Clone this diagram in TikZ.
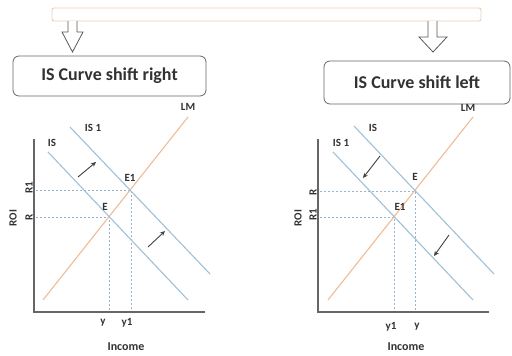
\documentclass[tikz,border=0pt]{standalone}
\usepackage{fontspec}
\setmainfont{Carlito}
\usetikzlibrary{arrows.meta}
\definecolor{isblue}{RGB}{160,192,214}
\definecolor{lmorange}{RGB}{240,188,150}
\definecolor{guidecol}{RGB}{150,180,210}
\definecolor{barcol}{RGB}{232,205,178}
\definecolor{txt}{RGB}{50,50,50}
\begin{document}
\begin{tikzpicture}[x=1pt,y=-1pt,
 lbl/.style={font=\fontsize{11}{11}\selectfont\bfseries, text=txt, inner sep=0pt},
 inc/.style={font=\fontsize{12}{12}\selectfont\bfseries, text=txt, inner sep=0pt},
 isline/.style={draw=isblue, line width=1.1pt},
 lmline/.style={draw=lmorange, line width=1.1pt},
 guide/.style={draw=guidecol, dash pattern=on 2pt off 2pt, line width=0.7pt},
 axis/.style={draw=black!60, line width=1.3pt},
 shiftarrow/.style={draw=black!75, line width=0.9pt, -{Stealth[length=5pt,width=4.5pt]}},
 titlebox/.style={draw=black!60, rounded corners=6pt, line width=0.8pt, font=\fontsize{18}{18}\selectfont\bfseries, text=txt},
 hollow/.style={draw=black!65, fill=white, line width=0.8pt, line join=miter}
]
\useasboundingbox (0,0) rectangle (512,356);
% top bar
\node[draw=barcol, line width=0.9pt, rounded corners=2pt, minimum width=429pt, minimum height=13pt, inner sep=0pt] (bar) at (266.5,14.5) {};
% hollow arrows
\draw[hollow] (68,21) -- (68,32) -- (62,32) -- (72.5,52) -- (83,32) -- (77,32) -- (77,21);
\draw[hollow] (428,21) -- (428,37) -- (419,37) -- (433,52) -- (447,37) -- (437,37) -- (437,21);
% title boxes
\node[titlebox, minimum width=193pt, minimum height=40pt] (tl) at (109.5,76) {IS Curve shift right};
\node[titlebox, minimum width=186pt, minimum height=43pt] (tr) at (417,82.5) {IS Curve shift left};

% ---------- left graph ----------
\coordinate (Lo) at (34,312);
\coordinate (Ltop) at (34,139);
\coordinate (Lx) at (205,312);
\coordinate (LE) at (109,217);
\coordinate (LE1) at (131,190);
\draw[guide] (36,217) -- (LE) -- (109,312);
\draw[guide] (36,190) -- (LE1) -- (131,312);
\draw[lmline] (43,300) -- (188,117);
\draw[isline] (48,152) -- (188,300);
\draw[isline] (70,127) -- (210,274);
\draw[axis] (Ltop) -- (Lo) -- (Lx);
\coordinate (La1s) at (78,177); \coordinate (La1e) at (96,162);
\coordinate (La2s) at (148,247); \coordinate (La2e) at (165,231);
\draw[shiftarrow] (La1s) -- (La1e);
\draw[shiftarrow] (La2s) -- (La2e);
\node[lbl] (lLM) at (188,107) {LM};
\node[lbl] (lIS) at (52,143) {IS};
\node[lbl] (lIS1) at (93,128) {IS 1};
\node[lbl] (lE) at (105,207) {E};
\node[lbl] (lE1) at (130,178) {E1};
\node[lbl, rotate=90] (lR) at (29,217) {R};
\node[lbl, rotate=90] (lR1) at (29,188) {R1};
\node[lbl, rotate=90] (lROI) at (13,218) {ROI};
\node[lbl] (ly) at (103,323) {y};
\node[lbl] (ly1) at (127,323) {y1};
\node[inc] (lInc) at (126,347) {Income};

% ---------- right graph ----------
\coordinate (Ro) at (318,312);
\coordinate (Rtop) at (318,139);
\coordinate (Rx) at (489,312);
\coordinate (RE) at (415,191);
\coordinate (RE1) at (394,217);
\draw[guide] (320,191) -- (RE) -- (415,312);
\draw[guide] (320,217) -- (RE1) -- (394,312);
\draw[lmline] (328,300) -- (473,117);
\draw[isline] (354,126) -- (494,274);
\draw[isline] (333,152) -- (473,300);
\draw[axis] (Rtop) -- (Ro) -- (Rx);
\coordinate (Ra1s) at (380,156); \coordinate (Ra1e) at (363,178);
\coordinate (Ra2s) at (449,235); \coordinate (Ra2e) at (434,256);
\draw[shiftarrow] (Ra1s) -- (Ra1e);
\draw[shiftarrow] (Ra2s) -- (Ra2e);
\node[lbl] (rLM) at (468,108) {LM};
\node[lbl] (rIS) at (373,128) {IS};
\node[lbl] (rIS1) at (341,143) {IS 1};
\node[lbl] (rE) at (415,177) {E};
\node[lbl] (rE1) at (400,207) {E1};
\node[lbl, rotate=90] (rR) at (313,192) {R};
\node[lbl, rotate=90] (rR1) at (313,215) {R1};
\node[lbl, rotate=90] (rROI) at (298,218) {ROI};
\node[lbl] (ry1) at (391,327) {y1};
\node[lbl] (ry) at (417,327) {y};
\node[inc] (rInc) at (406,347) {Income};
\end{tikzpicture}
\end{document}
